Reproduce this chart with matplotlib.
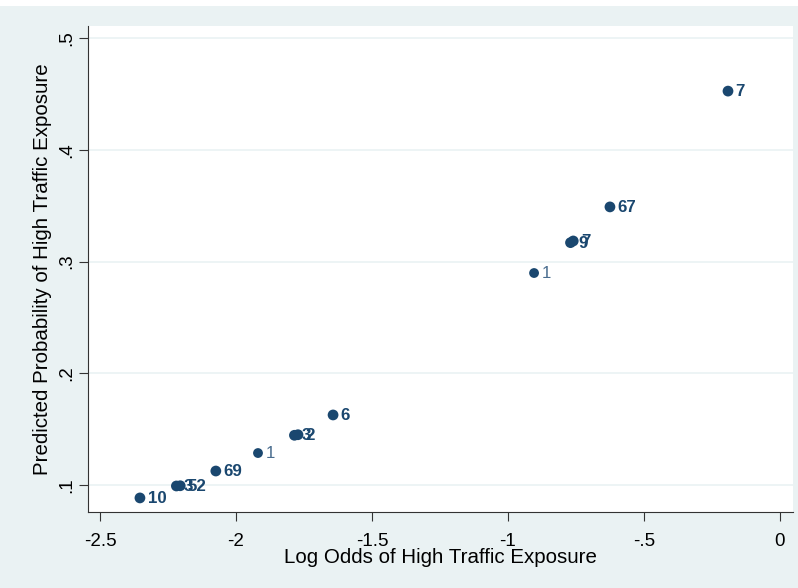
import matplotlib
matplotlib.use("Agg")
import matplotlib.pyplot as plt

log_odds = [-2.353, -2.219, -2.205, -2.074, -1.919, -1.785, -1.772, -1.643, -0.904, -0.770, -0.760, -0.625, -0.191]
pred_prob = [0.0884, 0.0991, 0.0993, 0.1125, 0.1286, 0.1445, 0.1450, 0.1627, 0.2898, 0.3170, 0.3185, 0.3490, 0.4527]
labels = ["10", "3", "52", "69", "1", "3", "2", "6", "1", "9", "7", "67", "7"]
counts = [10, 3, 52, 69, 1, 3, 2, 6, 1, 9, 7, 67, 7]

xticks = [-2.5, -2, -1.5, -1, -0.5, 0]
xticklabels = ["-2.5", "-2", "-1.5", "-1", "-.5", "0"]
yticks = [0.1, 0.2, 0.3, 0.4, 0.5]
yticklabels = [".1", ".2", ".3", ".4", ".5"]

plt.rcParams['font.family'] = ['Liberation Sans', 'DejaVu Sans']
navy = "#1a476f"
bg = "#eaf2f3"

fig = plt.figure(figsize=(7.98, 5.88), dpi=100, facecolor=bg)
fig.patches.append(plt.Rectangle((0, 1 - 6/588), 1, 6/588, transform=fig.transFigure,
                                 facecolor="white", edgecolor="none", zorder=0))
ax = fig.add_axes([88/798, 1 - 512/588, (793 - 88)/798, (512 - 26)/588])
ax.set_facecolor("white")

for x, y, lab, c in zip(log_odds, pred_prob, labels, counts):
    single = c == 1
    ax.scatter([x], [y], s=50 if single else 60, color=navy, edgecolors="none", zorder=3)
    ax.annotate(lab, (x, y), xytext=(5.5, -0.5), textcoords="offset points",
                va="center", ha="left", fontsize=12.2,
                color="#4a6d8f" if single else navy,
                fontweight="normal" if single else "bold", zorder=4)

ax.set_xlim(-2.544, 0.048)
ax.set_ylim(0.0758, 0.511)
ax.set_xticks(xticks)
ax.set_xticklabels(xticklabels)
ax.set_yticks(yticks)
ax.set_yticklabels(yticklabels, rotation=90, va="center")
ax.tick_params(axis="both", labelsize=13.5, length=6.5, width=0.8, color="#333333")
ax.tick_params(axis="x", pad=8.5)
ax.tick_params(axis="y", pad=3)
ax.grid(axis="y", color=bg, linewidth=1.2)
ax.set_axisbelow(True)
for s in ["top", "right"]:
    ax.spines[s].set_visible(False)
for s in ["left", "bottom"]:
    ax.spines[s].set_color("#333333")
    ax.spines[s].set_linewidth(0.8)

ax.set_xlabel("Log Odds of High Traffic Exposure", fontsize=14.8, labelpad=-1)
ax.set_ylabel("Predicted Probability of High Traffic Exposure", fontsize=14.8, labelpad=4)

fig.savefig("out.png", dpi=100, facecolor=bg)
